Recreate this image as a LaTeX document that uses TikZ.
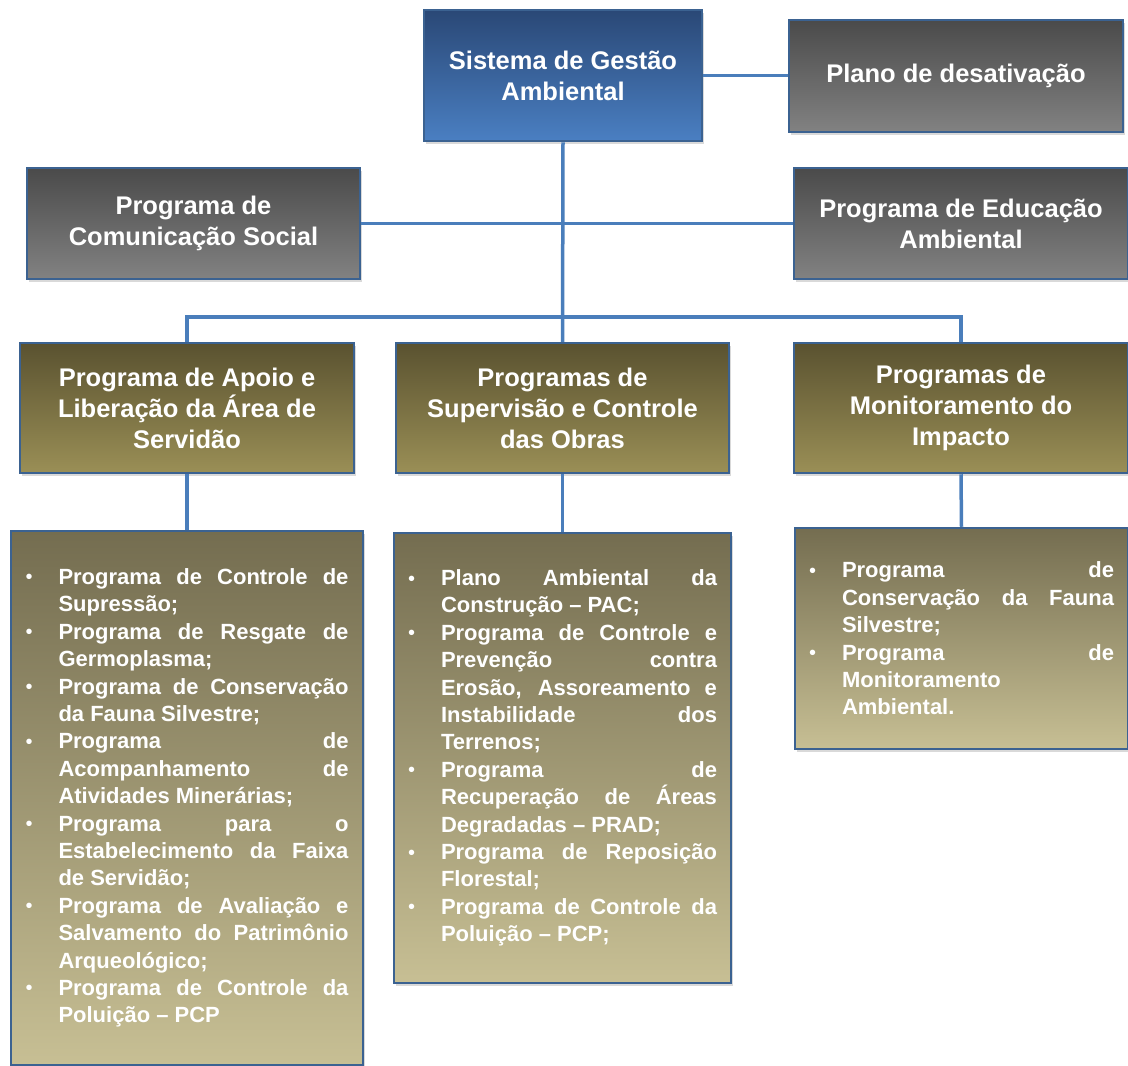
\documentclass[tikz,border=0pt]{standalone}
\usepackage{fontspec}
\setmainfont{Liberation Sans}
\usetikzlibrary{shadows}
\definecolor{lnblue}{HTML}{4A7EBB}
\definecolor{bdblue}{HTML}{3B6291}
\definecolor{sgatop}{HTML}{2A4876}
\definecolor{sgabot}{HTML}{4A7FC2}
\definecolor{gtop}{HTML}{4A4A4A}
\definecolor{gbot}{HTML}{828282}
\definecolor{otop}{HTML}{5A5230}
\definecolor{obot}{HTML}{9A8F56}
\definecolor{ltop}{HTML}{746D50}
\definecolor{lbot}{HTML}{C7BF94}
\newcommand\itm[1]{\noindent\hangindent=33pt\hangafter=1\makebox[33pt][l]{{\mdseries\fontsize{20}{20}\selectfont\raisebox{0.5pt}{•}}}#1\par}
\tikzset{
  base/.style={draw=bdblue, line width=2.5pt, text=white, inner sep=0pt,
    font=\bfseries\fontsize{25.5}{31}\selectfont, align=center,
    drop shadow={opacity=0.3, shadow xshift=2pt, shadow yshift=-3pt}},
  bluebox/.style={base, top color=sgatop, bottom color=sgabot},
  graybox/.style={base, top color=gtop, bottom color=gbot},
  olivebox/.style={base, top color=otop, bottom color=obot, minimum width=334pt, minimum height=130pt},
  listbox/.style={base, top color=ltop, bottom color=lbot, align=justify,
    font=\bfseries\fontsize{22}{27.4}\selectfont},
  conn/.style={draw=lnblue, line width=3.5pt}
}
\begin{document}
\begin{tikzpicture}[x=1pt,y=-1pt]
\useasboundingbox (0,0) rectangle (1128,1066);
\coordinate (bus) at (562,317);
\node[bluebox, minimum width=278pt, minimum height=131pt] (sga) at (563,75.5) {Sistema de Gestão\\Ambiental};
\node[graybox, minimum width=334pt, minimum height=112pt] (plano) at (956,76) {Plano de desativação};
\node[graybox, minimum width=333pt, minimum height=111pt] (com) at (193.5,223.5) {Programa de\\Comunicação Social};
\node[graybox, minimum width=334pt, minimum height=111pt] (edu) at (961,223.5) {Programa de Educação\\Ambiental};
\node[olivebox] (apoio) at (187,408) {Programa de Apoio e\\Liberação da Área de\\Servidão};
\node[olivebox, minimum width=333pt] (sup) at (562.5,408) {Programas de\\Supervisão e Controle\\das Obras};
\node[olivebox] (mon) at (961,408) {Programas de\\Monitoramento do\\Impacto};
\draw[conn] (sga.east) -- (sga.east -| plano.west);
\draw[conn] (sga.south) -- (sup.north);
\draw[conn] (com.east) -- (edu.west);
\draw[conn] (apoio.north) |- (bus) -| (mon.north);
\node[listbox, minimum width=352pt, minimum height=534pt, text width=323pt] (l1) at (187,798) {%
\itm{Programa de Controle de\linebreak Supressão;}
\itm{Programa de Resgate de\linebreak Germoplasma;}
\itm{Programa de Conservação\linebreak da Fauna Silvestre;}
\itm{Programa de\linebreak Acompanhamento de\linebreak Atividades Minerárias;}
\itm{Programa para o\linebreak Estabelecimento da Faixa\linebreak de Servidão;}
\itm{Programa de Avaliação e\linebreak Salvamento do Patrimônio\linebreak Arqueológico;}
\itm{Programa de Controle da\linebreak Poluição – PCP}};
\node[listbox, minimum width=337pt, minimum height=450pt, text width=309pt] (l2) at (562.5,758) {%
\itm{Plano Ambiental da\linebreak Construção – PAC;}
\itm{Programa de Controle e\linebreak Prevenção contra\linebreak Erosão, Assoreamento e\linebreak Instabilidade dos\linebreak Terrenos;}
\itm{Programa de\linebreak Recuperação de Áreas\linebreak Degradadas – PRAD;}
\itm{Programa de Reposição\linebreak Florestal;}
\itm{Programa de Controle da\linebreak Poluição – PCP;}};
\node[listbox, minimum width=333pt, minimum height=221pt, text width=305pt] (l3) at (961.5,638.5) {%
\itm{Programa de\linebreak Conservação da Fauna\linebreak Silvestre;}
\itm{Programa de\linebreak Monitoramento\newline Ambiental.}};
\draw[conn] (apoio.south -| l1.north) -- (l1.north);
\draw[conn] (sup.south) -- (l2.north);
\draw[conn] (mon.south) -- (l3.north);
\end{tikzpicture}
\end{document}
